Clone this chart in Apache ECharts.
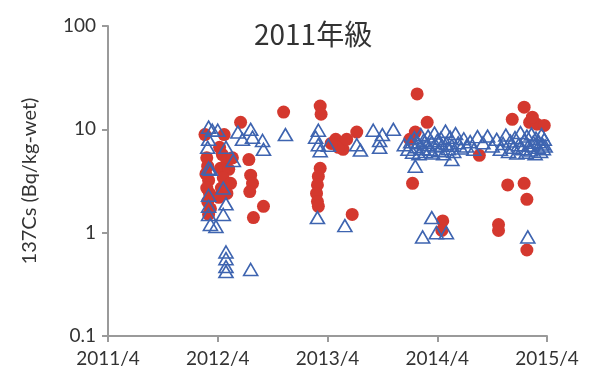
<!DOCTYPE html>
<html lang="ja">
<head>
<meta charset="UTF-8">
<title>2011年級</title>
<script src="https://cdn.jsdelivr.net/npm/echarts@6/dist/echarts.min.js"></script>
<style>
  html, body { margin: 0; padding: 0; background: #fff; }
  #main { width: 592px; height: 382px; }
</style>
</head>
<body>
<div id="main"></div>
<script>
// x = months since 2011/4, y = 137Cs (Bq/kg-wet)
var xTicks = ['2011/4', '2012/4', '2013/4', '2014/4', '2015/4'];
var yTicks = [0.1, 1, 10, 100];

// red filled circles
var redPoints = [
    [10.6, 8.9], [10.8, 5.3], [10.9, 4.4], [10.7, 3.7], [11.0, 3.2], [10.8, 2.7], [11.1, 2.4], [10.9, 2.0], [11.2, 1.7], [11.0, 1.5],
    [12.2, 6.7], [12.5, 5.7], [13.0, 5.0], [12.3, 4.2], [13.2, 4.1], [12.6, 3.4], [13.4, 3.0], [12.4, 2.7], [13.0, 2.4], [13.6, 5.3], [12.1, 2.2],
    [14.5, 11.7], [12.7, 8.9], [15.4, 5.1], [15.6, 3.6], [15.8, 3.0], [15.5, 2.5], [17.0, 1.8], [15.9, 1.4], [19.2, 14.7],
    [23.2, 16.8], [23.3, 14.0], [23.2, 4.2], [23.0, 3.5], [22.9, 2.9], [22.8, 2.4], [22.9, 2.0], [23.0, 1.8],
    [24.9, 8.0], [25.4, 7.1], [25.7, 6.4], [25.2, 6.7], [26.1, 8.0], [27.2, 9.4], [26.7, 1.5], [24.4, 7.3],
    [33.8, 22.0], [34.9, 11.7], [33.6, 9.4], [33.0, 8.0], [33.3, 3.0], [40.6, 5.6], [36.6, 1.3], [36.5, 1.05],
    [43.7, 2.9], [45.5, 3.0], [45.8, 2.1], [42.7, 1.2], [42.7, 1.05], [45.8, 0.68],
    [45.5, 16.4], [44.2, 12.5], [46.1, 11.7], [46.9, 11.2], [47.7, 10.9], [46.4, 13.1]
];

// blue open triangles
var bluePoints = [
    [11.0, 10.5], [11.4, 9.8], [11.0, 8.0], [10.9, 6.7], [12.0, 9.8], [14.2, 9.4], [15.6, 10.0], [15.8, 8.4], [14.7, 8.0],
    [16.9, 7.8], [17.0, 6.4], [12.9, 6.7], [13.7, 5.0], [11.2, 4.1], [11.0, 4.2], [12.6, 2.7], [12.9, 1.9], [12.6, 1.5],
    [11.0, 2.3], [11.0, 1.8], [11.0, 1.5], [11.2, 1.2], [11.8, 1.15], [19.4, 8.9],
    [12.9, 0.65], [12.9, 0.56], [12.9, 0.47], [12.9, 0.42], [15.6, 0.44],
    [23.0, 9.8], [22.7, 8.4], [23.0, 7.1], [23.2, 6.2], [24.1, 7.0], [27.2, 7.1], [27.6, 6.3],
    [29.0, 9.8], [30.0, 8.9], [31.2, 10.0], [29.7, 7.8], [29.7, 6.7], [22.9, 1.4], [25.9, 1.17],
    [32.4, 7.1], [32.8, 6.4], [33.1, 7.6], [33.3, 6.0], [33.5, 8.3], [33.7, 6.8], [33.9, 7.4], [34.0, 5.8],
    [34.2, 8.9], [34.4, 6.5], [34.5, 7.8], [34.7, 6.1], [34.9, 7.1], [35.0, 8.6], [35.2, 6.4], [35.4, 7.5],
    [35.5, 5.9], [35.7, 9.2], [35.9, 6.9], [36.0, 7.8], [36.2, 6.2], [36.4, 8.2], [36.5, 7.0], [36.7, 5.8],
    [36.9, 9.6], [37.0, 7.3], [37.2, 6.5], [37.4, 8.4], [37.6, 7.0], [37.8, 6.1], [38.0, 9.1], [38.3, 7.4],
    [38.6, 6.6], [38.9, 8.1], [39.2, 6.9], [39.6, 7.6], [40.0, 6.4], [40.4, 8.5], [41.0, 7.4], [41.5, 8.6],
    [33.6, 4.4], [37.6, 5.1], [35.4, 1.4], [34.4, 0.91], [35.9, 1.0], [37.0, 1.0], [45.9, 0.91],
    [42.0, 6.9], [42.5, 8.0], [42.9, 6.4], [43.2, 7.3], [43.5, 8.8], [43.8, 6.1], [44.0, 7.7], [44.3, 6.7],
    [44.5, 8.3], [44.7, 5.9], [44.9, 7.1], [45.1, 9.3], [45.3, 6.5], [45.5, 7.8], [45.7, 6.0], [45.8, 8.6],
    [46.0, 7.0], [46.2, 6.3], [46.3, 9.0], [46.5, 7.5], [46.7, 5.8], [46.8, 8.2], [47.0, 6.7], [47.1, 7.6],
    [47.3, 6.1], [47.4, 8.9], [47.5, 7.2], [47.6, 6.5], [47.7, 8.0], [47.8, 6.9]
];

var red = '#d4382e';
var blue = '#3e64b0';
var axisGray = '#9a9a9a';
var labelFont = 'Lato, "Noto Sans", sans-serif';

var myChart = echarts.init(document.getElementById('main'));

var option = {
    backgroundColor: '#ffffff',
    animation: false,
    title: {
        text: '2011年級',
        left: 249,
        top: 15,
        textStyle: {
            fontFamily: '"Noto Sans CJK JP", sans-serif',
            fontSize: 28,
            fontWeight: 'normal',
            color: '#333'
        }
    },
    grid: {
        left: 108,
        top: 26,
        width: 439,
        height: 310
    },
    xAxis: {
        type: 'value',
        min: 0,
        max: 48,
        interval: 12,
        splitLine: { show: false },
        axisLine: { onZero: false, lineStyle: { color: axisGray, width: 2 } },
        axisTick: { length: 6, lineStyle: { color: axisGray, width: 2 } },
        axisLabel: {
            margin: 13,
            fontFamily: labelFont,
            fontSize: 19,
            color: '#333',
            formatter: function (v) { return xTicks[v / 12]; }
        }
    },
    yAxis: {
        type: 'log',
        logBase: 10,
        min: 0.1,
        max: 100,
        name: '137Cs (Bq/kg-wet)',
        nameLocation: 'middle',
        nameGap: 68,
        nameTextStyle: {
            fontFamily: labelFont,
            fontSize: 20,
            color: '#333'
        },
        splitLine: { show: false },
        minorTick: { show: false },
        axisLine: { lineStyle: { color: axisGray, width: 2 } },
        axisTick: { length: 6, lineStyle: { color: axisGray, width: 2 } },
        axisLabel: {
            margin: 12,
            fontFamily: labelFont,
            fontSize: 19,
            color: '#333',
            formatter: function (v) {
                for (var i = 0; i < yTicks.length; i++) {
                    if (Math.abs(v - yTicks[i]) < yTicks[i] * 0.01) return String(yTicks[i]);
                }
                return '';
            }
        }
    },
    series: [
        {
            name: 'red',
            type: 'scatter',
            clip: false,
            symbol: 'circle',
            symbolSize: 13,
            itemStyle: { color: red, opacity: 1 },
            data: redPoints
        },
        {
            name: 'blue',
            type: 'scatter',
            clip: false,
            symbol: 'triangle',
            symbolSize: [14, 12],
            itemStyle: {
                color: 'rgba(255,255,255,0)',
                borderColor: blue,
                borderWidth: 1.6,
                opacity: 1
            },
            data: bluePoints
        }
    ]
};

myChart.setOption(option);
</script>
</body>
</html>
